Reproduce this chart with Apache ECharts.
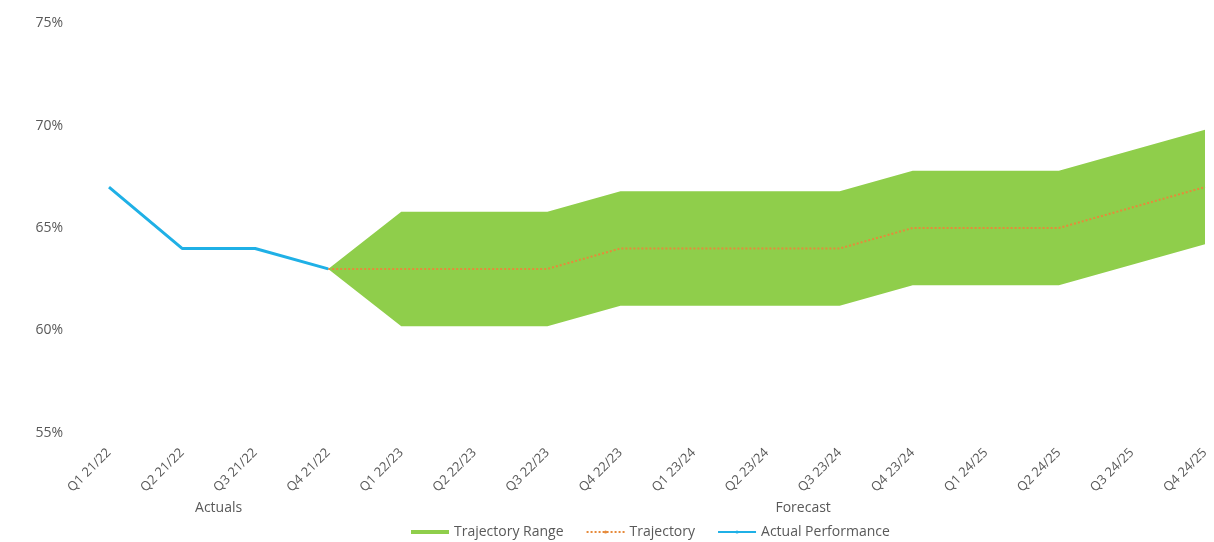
<!DOCTYPE html>
<html>
<head>
<meta charset="utf-8">
<script src="https://cdn.jsdelivr.net/npm/echarts@6/dist/echarts.min.js"></script>
<style>
	html, body { margin: 0; padding: 0; background: #fff; }
	#chart { width: 1214px; height: 542px; }
</style>
</head>
<body>
<div id="chart"></div>
<script>
var quarters = ['Q1 21/22', 'Q2 21/22', 'Q3 21/22', 'Q4 21/22', 'Q1 22/23', 'Q2 22/23', 'Q3 22/23', 'Q4 22/23',
	'Q1 23/24', 'Q2 23/24', 'Q3 23/24', 'Q4 23/24', 'Q1 24/25', 'Q2 24/25', 'Q3 24/25', 'Q4 24/25'];
var actual = [67, 64, 64, 63, '-', '-', '-', '-', '-', '-', '-', '-', '-', '-', '-', '-'];
var trajectory = ['-', '-', '-', 63, 63, 63, 63, 64, 64, 64, 64, 65, 65, 65, 66, 67];
var rangeLow = ['-', '-', '-', 63, 60.2, 60.2, 60.2, 61.2, 61.2, 61.2, 61.2, 62.2, 62.2, 62.2, 63.2, 64.2];
var rangeHigh = ['-', '-', '-', 63, 65.8, 65.8, 65.8, 66.8, 66.8, 66.8, 66.8, 67.8, 67.8, 67.8, 68.8, 69.8];
var groups = [
	{ name: 'Actuals', from: 0, to: 3 },
	{ name: 'Forecast', from: 4, to: 15 }
];
var yTicks = { min: 55, max: 75, step: 5 };

// band thickness for the stacked area
var rangeSpan = [];
for (let i = 0; i < rangeLow.length; i++) {
	if (rangeLow[i] === '-' || rangeHigh[i] === '-') {
		rangeSpan.push('-');
	} else {
		rangeSpan.push(+(rangeHigh[i] - rangeLow[i]).toFixed(2));
	}
}
var groupPos = groups.map(g => (g.from + g.to) / 2);

var font = '"Open Sans", "Noto Sans", sans-serif';
var textGrey = '#595959';

var chart = echarts.init(document.getElementById('chart'));
chart.setOption({
	animation: false,
	textStyle: { fontFamily: font },
	grid: { left: 109, right: 9, top: 23.4, bottom: 109.4, containLabel: false },
	legend: {
		top: 520,
		left: 406,
		itemWidth: 38,
		itemHeight: 4,
		itemGap: 22,
		textStyle: { color: textGrey, fontSize: 14, fontFamily: font },
		data: [
			{ name: 'Trajectory Range', icon: 'rect' },
			{ name: 'Trajectory' },
			{ name: 'Actual Performance' }
		]
	},
	xAxis: [{
		type: 'category',
		data: quarters,
		boundaryGap: false,
		axisLine: { show: false },
		axisTick: { show: false },
		axisLabel: { rotate: 45, margin: 18, color: textGrey, fontSize: 13, interval: 0 }
	}, {
		type: 'value',
		min: 0,
		max: quarters.length - 1,
		position: 'bottom',
		axisLine: { show: false },
		axisTick: { show: false },
		splitLine: { show: false },
		axisLabel: {
			customValues: groupPos,
			margin: 68,
			color: textGrey,
			fontSize: 14,
			formatter: function(v) {
				let g = groups[groupPos.indexOf(v)];
				return g ? g.name : '';
			}
		}
	}],
	yAxis: {
		type: 'value',
		min: yTicks.min,
		max: yTicks.max,
		interval: yTicks.step,
		splitLine: { show: false },
		axisLine: { show: false },
		axisTick: { show: false },
		axisLabel: { margin: 46, color: textGrey, fontSize: 14, formatter: '{value}%' }
	},
	series: [{
		name: 'rangeBase',
		type: 'line',
		data: rangeLow,
		stack: 'range',
		symbol: 'none',
		lineStyle: { width: 0 },
		silent: true
	}, {
		name: 'Trajectory Range',
		type: 'line',
		data: rangeSpan,
		stack: 'range',
		symbol: 'none',
		color: '#8fce4b',
		lineStyle: { width: 0 },
		areaStyle: { color: '#8fce4b', opacity: 1 }
	}, {
		name: 'Trajectory',
		type: 'line',
		data: trajectory,
		symbol: 'none',
		color: '#e68a3a',
		lineStyle: { width: 2, type: 'dotted', color: '#e68a3a' }
	}, {
		name: 'Actual Performance',
		type: 'line',
		data: actual,
		symbol: 'none',
		color: '#1fb0e6',
		lineStyle: { width: 3, color: '#1fb0e6' }
	}]
});
</script>
</body>
</html>
